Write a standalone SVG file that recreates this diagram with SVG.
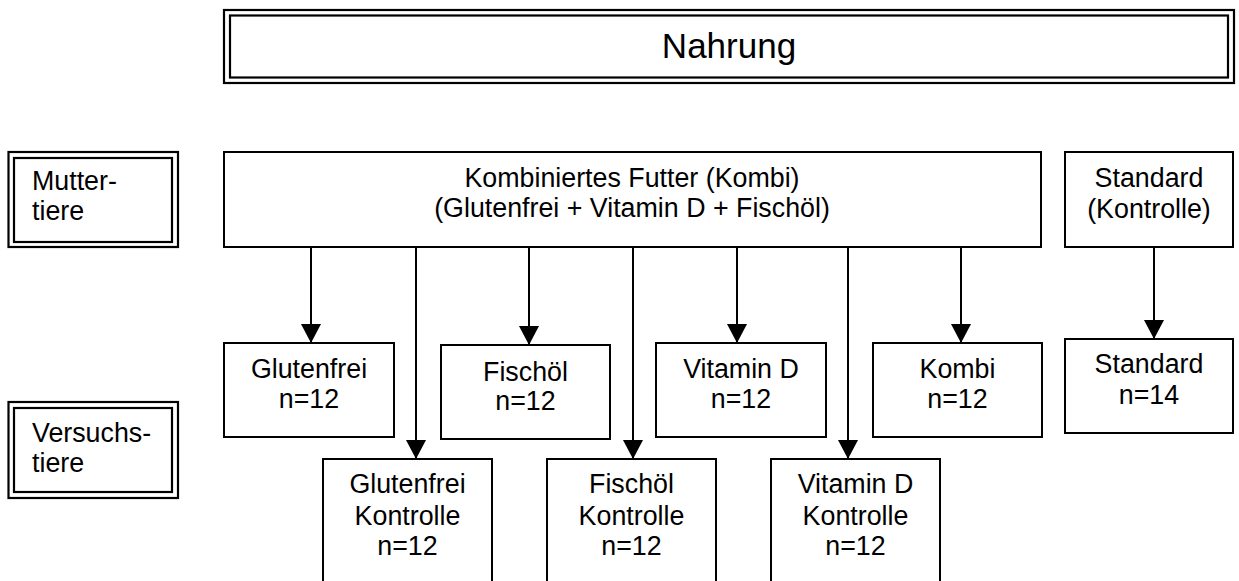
<svg xmlns="http://www.w3.org/2000/svg" width="1239" height="581" viewBox="0 0 1239 581">
<defs>
<style>
.box{fill:#fff;stroke:#000;stroke-width:2}
.frame{fill:none;stroke:#000;stroke-width:2.2}
.t{font-family:"Liberation Sans",Arial,sans-serif;font-size:26.8px;fill:#000}
.c{text-anchor:middle}
.ln{stroke:#000;stroke-width:2;fill:none}
</style>
<marker id="ah" viewBox="0 0 19 20" refX="19" refY="10" markerWidth="19" markerHeight="20" markerUnits="userSpaceOnUse" orient="auto">
<path d="M0,0 L19,10 L0,20 Z" fill="#000"/>
</marker>
</defs>
<rect width="1239" height="581" fill="#fff"/>

<g id="nahrung">
<rect class="frame" x="224" y="10" width="1010" height="73"/>
<rect class="frame" x="230" y="15.5" width="998" height="62"/>
<text class="t c" x="729" y="58" style="font-size:35px">Nahrung</text>
</g>

<g id="muttertiere">
<rect class="frame" x="8.5" y="152" width="169.5" height="95"/>
<rect class="frame" x="14" y="158" width="158" height="84"/>
<text class="t" x="32" y="190">Mutter-</text>
<text class="t" x="32" y="220">tiere</text>
</g>

<g id="versuchstiere">
<rect class="frame" x="8.5" y="402" width="169.5" height="96"/>
<rect class="frame" x="14" y="408" width="158" height="84"/>
<text class="t" x="32" y="442">Versuchs-</text>
<text class="t" x="32" y="472">tiere</text>
</g>

<g id="connectors">
<line class="ln" x1="311" y1="247" x2="311" y2="343" marker-end="url(#ah)"/>
<line class="ln" x1="416" y1="243" x2="416" y2="459" marker-end="url(#ah)"/>
<line class="ln" x1="529" y1="247" x2="529" y2="345" marker-end="url(#ah)"/>
<line class="ln" x1="633" y1="243" x2="633" y2="459" marker-end="url(#ah)"/>
<line class="ln" x1="737" y1="247" x2="737" y2="343" marker-end="url(#ah)"/>
<line class="ln" x1="848" y1="243" x2="848" y2="459" marker-end="url(#ah)"/>
<line class="ln" x1="961" y1="247" x2="961" y2="343" marker-end="url(#ah)"/>
<line class="ln" x1="1154" y1="247" x2="1154" y2="339" marker-end="url(#ah)"/>
</g>

<g id="kombi-futter">
<rect class="box" x="224" y="152" width="817" height="95"/>
<text class="t c" x="632" y="187">Kombiniertes Futter (Kombi)</text>
<text class="t c" x="632" y="217">(Glutenfrei + Vitamin D + Fischöl)</text>
</g>

<g id="standard-kontrolle">
<rect class="box" x="1065" y="152" width="168" height="95"/>
<text class="t c" x="1149" y="187">Standard</text>
<text class="t c" x="1149" y="218">(Kontrolle)</text>
</g>

<g id="glutenfrei">
<rect class="box" x="224" y="343" width="170" height="94"/>
<text class="t c" x="309" y="378">Glutenfrei</text>
<text class="t c" x="309" y="408">n=12</text>
</g>

<g id="fischoel">
<rect class="box" x="441" y="345" width="169" height="94"/>
<text class="t c" x="525.5" y="381">Fischöl</text>
<text class="t c" x="525.5" y="410">n=12</text>
</g>

<g id="vitamin-d">
<rect class="box" x="656" y="343" width="170" height="94"/>
<text class="t c" x="741" y="378">Vitamin D</text>
<text class="t c" x="741" y="408">n=12</text>
</g>

<g id="kombi">
<rect class="box" x="873" y="343" width="169" height="94"/>
<text class="t c" x="957.5" y="378">Kombi</text>
<text class="t c" x="957.5" y="408">n=12</text>
</g>

<g id="standard">
<rect class="box" x="1065" y="339" width="168" height="94"/>
<text class="t c" x="1149" y="373">Standard</text>
<text class="t c" x="1149" y="404">n=14</text>
</g>

<g id="glutenfrei-kontrolle">
<rect class="box" x="323" y="459" width="169" height="130"/>
<text class="t c" x="407.5" y="493">Glutenfrei</text>
<text class="t c" x="407.5" y="525">Kontrolle</text>
<text class="t c" x="407.5" y="555">n=12</text>
</g>

<g id="fischoel-kontrolle">
<rect class="box" x="547" y="459" width="169" height="130"/>
<text class="t c" x="631.5" y="493">Fischöl</text>
<text class="t c" x="631.5" y="525">Kontrolle</text>
<text class="t c" x="631.5" y="555">n=12</text>
</g>

<g id="vitamin-d-kontrolle">
<rect class="box" x="771" y="459" width="169" height="130"/>
<text class="t c" x="855.5" y="493">Vitamin D</text>
<text class="t c" x="855.5" y="525">Kontrolle</text>
<text class="t c" x="855.5" y="555">n=12</text>
</g>
</svg>
